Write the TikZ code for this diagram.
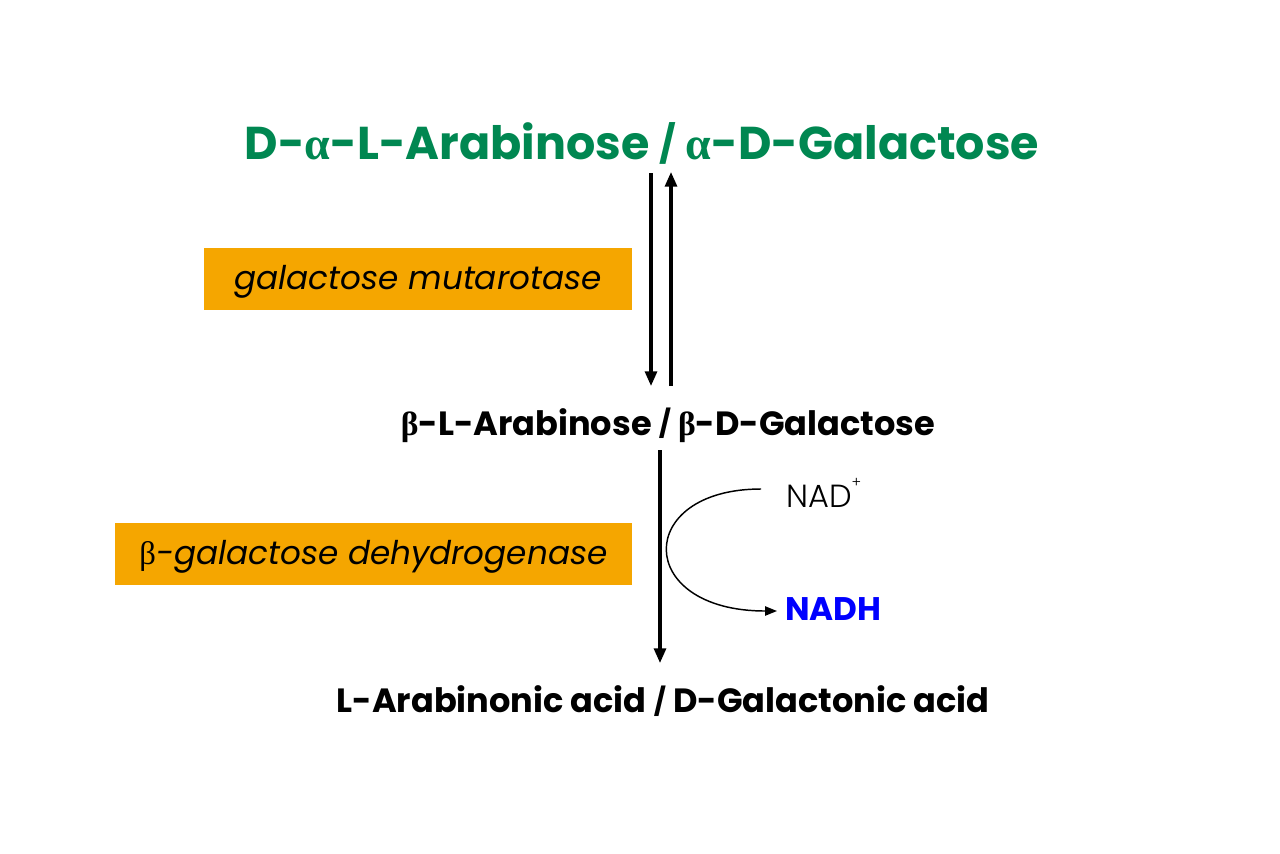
\documentclass[tikz,border=0pt]{standalone}
\usepackage{fontspec}
\setmainfont{Poppins}
\newfontfamily\grk{Liberation Serif}
\newfontfamily\thin{Poppins Light}
\usetikzlibrary{arrows.meta}
\definecolor{tgreen}{RGB}{0,135,81}
\definecolor{enzorange}{RGB}{245,166,0}
\definecolor{nadblue}{RGB}{0,0,255}
\newcommand{\myslash}{\raisebox{0.05em}{\scalebox{0.8}{/}}}
\tikzset{
  px/.style={x=0.75pt,y=-0.75pt},
  rxn/.style={line width=2.3pt,-{Triangle[length=11pt,width=9pt]}},
  enz/.style={fill=enzorange,draw=none,inner sep=0pt,text depth=0.3em,font=\itshape\fontsize{24.5}{28}\selectfont},
  met/.style={inner sep=0pt,font=\bfseries\fontsize{25.2}{30}\selectfont},
}
\begin{document}
\begin{tikzpicture}[px]
\useasboundingbox (0,0) rectangle (1280,853);
\node[met,text=tgreen,font=\bfseries\fontsize{34.5}{40}\selectfont] (top) at (642,143) {D-{\grk α}-L-Arabinose \myslash{} {\grk α}-D-Galactose};
\node[met] (mid) at (668,425) {{\grk β}-L-Arabinose \myslash{} {\grk β}-D-Galactose};
\node[met] (bot) at (663,701) {L-Arabinonic acid \myslash{} D-Galactonic acid};
\coordinate (a1s) at (651,173); \coordinate (a1e) at (651,386);
\coordinate (a2s) at (671,386); \coordinate (a2e) at (671,172);
\draw[rxn] (a1s) -- (a1e);
\draw[rxn] (a2s) -- (a2e);
\coordinate (a3s) at (660,450); \coordinate (a3e) at (660,663);
\draw[rxn] (a3s) -- (a3e);
\node[enz,minimum width=428*0.75pt,minimum height=62*0.75pt] (e1) at (418,279) {galactose mutarotase};
\node[enz,minimum width=517*0.75pt,minimum height=62*0.75pt] (e2) at (373.5,554) {{\upshape\grk β}-galactose dehydrogenase};
\node[inner sep=0pt,anchor=west,font=\thin\fontsize{24}{28}\selectfont] (nad) at (786,493) {NAD\raisebox{0.6em}{\fontsize{11}{12}\selectfont +}};
\node[inner sep=0pt,anchor=west,text=nadblue,font=\bfseries\fontsize{24.5}{28}\selectfont] (nadh) at (785,609) {NADH};
\coordinate (cs) at (761,489);
\coordinate (ce) at (777,611);
\draw[line width=1.1pt,-{Triangle[length=9pt,width=7pt]}] (cs) .. controls (634,489) and (634,611) .. (ce);
\end{tikzpicture}
\end{document}
